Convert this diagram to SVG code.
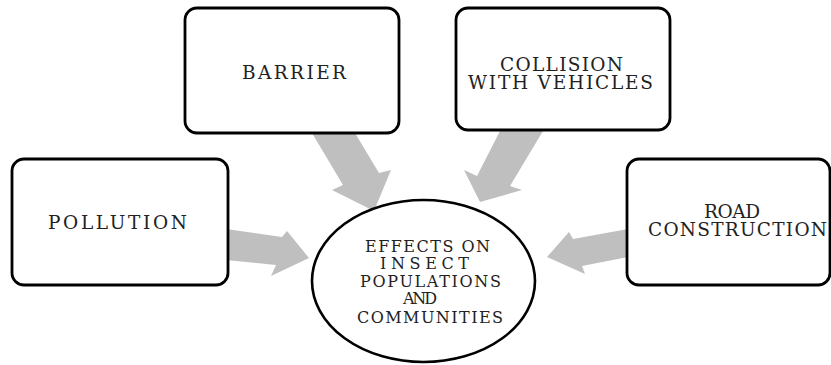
<svg xmlns="http://www.w3.org/2000/svg" width="831" height="365" viewBox="0 0 831 365">
<style>
.box{fill:#fff;stroke:#000;stroke-width:2.8}
.ell{fill:#fff;stroke:#000;stroke-width:2.6}
.arr{fill:#bfbfbf;stroke:none}
.t{font-family:"DejaVu Serif","Liberation Serif",serif;font-size:18.5px;fill:#222}
.s{font-family:"DejaVu Serif","Liberation Serif",serif;font-size:16px;fill:#222}
</style>
<rect width="831" height="365" fill="#fff"/>
<g id="connectors">
<polygon class="arr" points="226,229 282,237 287,231 309,258 271,276 276,265 226,260"/>
<polygon class="arr" points="312,133 355,133 379,173 391,170 374,211 332,190 343,185"/>
<polygon class="arr" points="500,131 543,131 510,186 522,190 480,202 464,170 477,176"/>
<polygon class="arr" points="628,229 628,257 582,266 585,274 547,257 569,232 573,239"/>
</g>
<g id="pollution">
<rect class="box" x="12" y="159" width="216" height="126" rx="12"/>
<text class="t" x="48" y="229" textLength="139" lengthAdjust="spacing">POLLUTION</text>
</g>
<g id="barrier">
<rect class="box" x="185" y="8" width="214" height="125" rx="12"/>
<text class="t" x="242" y="79" textLength="104" lengthAdjust="spacing">BARRIER</text>
</g>
<g id="collision">
<rect class="box" x="456" y="8" width="214" height="122" rx="12"/>
<text class="t" x="500" y="71" textLength="123" lengthAdjust="spacing">COLLISION</text>
<text class="t" x="468" y="89" textLength="185" lengthAdjust="spacing">WITH VEHICLES</text>
</g>
<g id="road">
<rect class="box" x="627" y="159" width="203" height="126" rx="12"/>
<text class="t" x="704" y="218" textLength="56" lengthAdjust="spacing">ROAD</text>
<text class="t" x="648" y="236" textLength="179" lengthAdjust="spacing">CONSTRUCTION</text>
</g>
<g id="effects">
<ellipse class="ell" cx="423.5" cy="281" rx="111.5" ry="81"/>
<text class="s" x="365" y="252" textLength="125" lengthAdjust="spacing">EFFECTS ON</text>
<text class="s" x="380" y="269" textLength="89" lengthAdjust="spacing">INSECT</text>
<text class="s" x="360" y="287" textLength="141" lengthAdjust="spacing">POPULATIONS</text>
<text class="s" x="403" y="304" textLength="34" lengthAdjust="spacing">AND</text>
<text class="s" x="357" y="323" textLength="146" lengthAdjust="spacing">COMMUNITIES</text>
</g>
</svg>
